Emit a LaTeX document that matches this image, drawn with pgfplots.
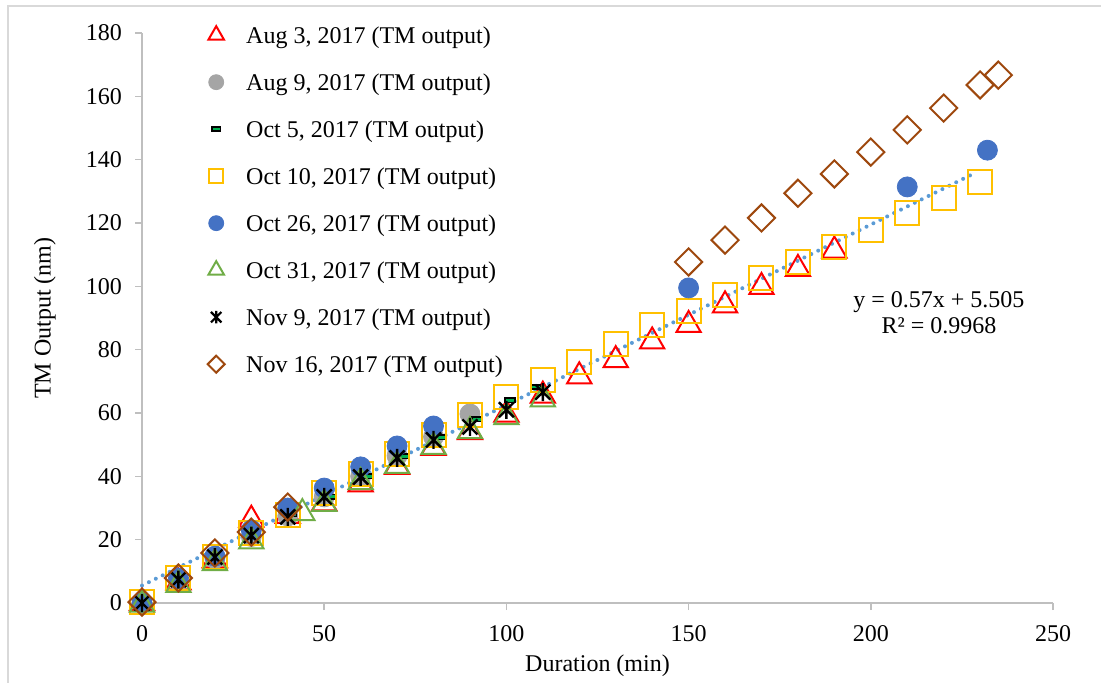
\documentclass[border=0pt]{standalone}
\usepackage{fontspec}
\setmainfont{Liberation Serif}
\usepackage{pgfplots}
\pgfplotsset{compat=1.18}

\definecolor{cRed}{HTML}{FF0000}
\definecolor{cGray}{HTML}{A5A5A5}
\definecolor{cDashFill}{HTML}{00B050}
\definecolor{cOrange}{HTML}{FFC000}
\definecolor{cBlue}{HTML}{4472C4}
\definecolor{cGreen}{HTML}{70AD47}
\definecolor{cBrown}{HTML}{9E480E}
\definecolor{cTrend}{HTML}{5B9BD5}
\definecolor{cAxis}{HTML}{BFBFBF}
\definecolor{cFrame}{HTML}{D9D9D9}

\newcommand{\chartfont}{\fontsize{12}{14.4}\selectfont}

% X with a vertical bar through it
\pgfdeclareplotmark{xstar}{%
  \pgfpathmoveto{\pgfqpoint{-\pgfplotmarksize}{-\pgfplotmarksize}}%
  \pgfpathlineto{\pgfqpoint{\pgfplotmarksize}{\pgfplotmarksize}}%
  \pgfpathmoveto{\pgfqpoint{-\pgfplotmarksize}{\pgfplotmarksize}}%
  \pgfpathlineto{\pgfqpoint{\pgfplotmarksize}{-\pgfplotmarksize}}%
  \pgfpathmoveto{\pgfqpoint{0pt}{-1.2\pgfplotmarksize}}%
  \pgfpathlineto{\pgfqpoint{0pt}{1.2\pgfplotmarksize}}%
  \pgfusepathqstroke}
% short flat bar
\pgfdeclareplotmark{xdash}{%
  \pgfpathrectangle{\pgfqpoint{-\pgfplotmarksize}{-0.45\pgfplotmarksize}}%
    {\pgfqpoint{2\pgfplotmarksize}{0.9\pgfplotmarksize}}%
  \pgfusepathqfillstroke}

\begin{document}
\begin{tikzpicture}
\useasboundingbox (0,0) rectangle (550.5pt,341pt);
\draw[cFrame, line width=1pt] (4pt,-2pt) -- (4pt,338pt) -- (553pt,338pt);
\begin{axis}[
  at={(71pt,39.5pt)}, anchor=south west,
  scale only axis, width=455.5pt, height=285pt,
  xmin=0, xmax=250, ymin=0, ymax=180,
  xtick={0,50,...,250}, ytick={0,20,...,180},
  axis x line=bottom, axis y line=left,
  axis line style={cAxis, line width=0.75pt, -},
  tick align=outside, major tick length=3.5pt,
  tick style={cAxis, line width=0.75pt},
  ticklabel style={font=\chartfont},
  xticklabel style={yshift=-4pt},
  yticklabel style={xshift=-3pt},
  /pgf/number format/assume math mode=true,
  xlabel={Duration (min)}, ylabel={TM Output (nm)},
  label style={font=\chartfont},
  xlabel style={at={(axis description cs:0.5,-0.11)}, anchor=center},
  ylabel style={at={(axis description cs:-0.1065,0.5)}, anchor=center},
  clip=false,
  legend cell align=left,
  legend image code/.code={%
    \path[draw=none, fill=none] (-5pt,-5.75pt) rectangle (5pt,5.75pt);
    \draw[#1] plot coordinates {(0pt,1.25pt)};},
  legend style={draw=none, fill=none, inner sep=0pt, outer sep=0pt,
    at={(axis description cs:0.0705,1.012)}, anchor=north west,
    row sep=12pt, column sep=10pt, font=\chartfont,
    nodes={inner sep=0pt, text height=8.5pt, text depth=3pt}},
]

% Aug 3, 2017
\addplot[forget plot, only marks, mark=triangle, mark size=7pt, cRed, line width=1pt]
coordinates {(0,0) (10,6.5) (20,13.5) (30,26.3) (40,27.5) (50,31.5) (60,37.5)
(70,43) (80,49) (90,54) (100,59.5) (110,65.5) (120,71.6) (130,76.7) (140,82.6)
(150,87.8) (160,94) (170,99.8) (180,105.5) (190,111.3)};

% Aug 9, 2017
\addplot[forget plot, only marks, mark=*, mark size=5pt, cGray]
coordinates {(0,0) (10,7) (20,14) (30,21) (40,27.5) (50,33.5) (60,40)
(70,46.5) (80,52.5) (90,59.7)};

% Oct 5, 2017
\addplot[forget plot, only marks, mark=xdash, mark size=2.5pt, draw=black, fill=cDashFill, line width=0.8pt]
coordinates {(1,0) (11,7.5) (21,14.5) (31,21.5) (41,28) (52,33.5) (62,40)
(72,46.4) (82,52.4) (92,58) (101,64) (108,68.2)};

% Oct 10, 2017
\addplot[forget plot, only marks, mark=square, mark size=6pt, cOrange, line width=1pt]
coordinates {(0,0.3) (10,7.9) (20,14.5) (30,22.1) (40,27.8) (50,34.7) (60,40.7)
(70,47) (80,53) (90,59.4) (100,65) (110,70.4) (120,76.1) (130,81.7) (140,87.8)
(150,92.2) (160,97.3) (170,102.6) (180,107.7) (190,112.4) (200,117.8)
(210,123.1) (220,127.9) (230,132.9)};

% Oct 26, 2017
\addplot[forget plot, only marks, mark=*, mark size=5pt, cBlue]
coordinates {(0,0) (10,7.9) (20,14.8) (30,23) (40,30) (50,36.3) (60,43)
(70,49.6) (80,55.9) (150,99.5) (210,131.4) (232,143)};

% Oct 31, 2017
\addplot[forget plot, only marks, mark=triangle, mark size=7pt, cGreen, line width=1pt]
coordinates {(0,-0.5) (10,5.7) (20,12.6) (30,19.5) (44,28.4) (50,31.3) (60,38.2)
(70,43.3) (80,49.3) (90,54.3) (100,58.7) (110,64.3)};

% Nov 9, 2017
\addplot[forget plot, only marks, mark=xstar, mark size=3.75pt, black, line width=1.2pt]
coordinates {(0,0) (10,7.4) (20,14.5) (30,21.3) (40,27.2) (50,33.5) (60,39.8)
(70,45.8) (80,51.5) (90,55.6) (100,61) (110,66.6)};

% Nov 16, 2017
\addplot[forget plot, only marks, mark=square, mark size=4.8pt, mark options={rotate=45}, cBrown, line width=1pt]
coordinates {(0,0.3) (10,7.9) (20,15.8) (30,22.4) (40,30.3) (150,107.7)
(160,114.6) (170,121.6) (180,129.4) (190,135.5) (200,142.4) (210,149.4)
(220,156.3) (230,163.6) (235,166.7)};

% linear trend line y = 0.57x + 5.505
\addplot[forget plot, cTrend, line width=2pt, line cap=round, dash pattern=on 0pt off 3.85pt]
coordinates {(0,5.505) (228,135.465)};

\node[font=\fontsize{12}{13}\selectfont, align=center] at (axis cs:218.7,91.7)
  {y = 0.57x + 5.505\\R² = 0.9968};

\addlegendimage{only marks, mark=triangle, mark size=4.5pt, cRed, line width=1pt}
\addlegendentry{Aug 3, 2017 (TM output)}
\addlegendimage{only marks, mark=*, mark size=3.75pt, cGray}
\addlegendentry{Aug 9, 2017 (TM output)}
\addlegendimage{only marks, mark=xdash, mark size=2.2pt, draw=black, fill=cDashFill, line width=0.8pt}
\addlegendentry{Oct 5, 2017 (TM output)}
\addlegendimage{only marks, mark=square, mark size=3.6pt, cOrange, line width=1pt}
\addlegendentry{Oct 10, 2017 (TM output)}
\addlegendimage{only marks, mark=*, mark size=3.75pt, cBlue}
\addlegendentry{Oct 26, 2017 (TM output)}
\addlegendimage{only marks, mark=triangle, mark size=4.5pt, cGreen, line width=1pt}
\addlegendentry{Oct 31, 2017 (TM output)}
\addlegendimage{only marks, mark=xstar, mark size=2.6pt, black, line width=1.1pt}
\addlegendentry{Nov 9, 2017 (TM output)}
\addlegendimage{only marks, mark=square, mark size=3pt, mark options={rotate=45}, cBrown, line width=1pt}
\addlegendentry{Nov 16, 2017 (TM output)}
\end{axis}
\end{tikzpicture}
\end{document}
